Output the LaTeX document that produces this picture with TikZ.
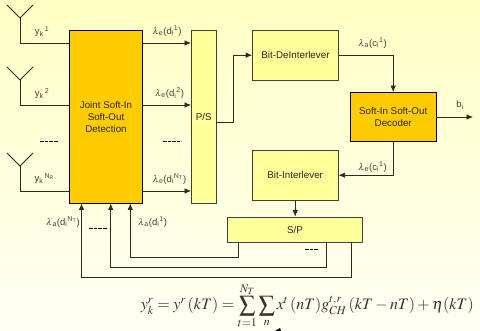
\documentclass[tikz,border=0pt]{standalone}
\usepackage{mathptmx}
\usepackage{amsmath}
\usepackage{fontspec}
\setmainfont{Liberation Sans}
\usetikzlibrary{calc}
\usetikzlibrary{arrows.meta}
\definecolor{bgtop}{HTML}{FFFFC4}
\definecolor{bgbot}{HTML}{FFFFF4}
\definecolor{detfill}{HTML}{FFCC00}
\definecolor{lightfill}{HTML}{FFFF99}
\definecolor{linegray}{HTML}{2A2A1E}
\tikzset{
	dark/.style={draw=black,line width=0.7pt,fill=detfill,align=center,font=\fontsize{9.8}{12.4}\selectfont,text=black!85},
	pale/.style={draw=black!75,line width=0.7pt,fill=lightfill,align=center,font=\fontsize{9.8}{12.4}\selectfont,text=black!85},
	wire/.style={draw=linegray,line width=0.75pt},
	flow/.style={wire,-{Latex[length=6.5pt,width=5.5pt]}},
	sig/.style={font=\fontsize{9.5}{11}\selectfont,text=black!75,inner sep=0pt},
	gap/.style={line width=0.9pt,dash pattern=on 3.5pt off 1.2pt,black}
}
\newcommand{\lam}{$\lambda$}
\begin{document}
\begin{tikzpicture}[x=1pt,y=-1pt]
\useasboundingbox (0,0) rectangle (480,331);
\shade[top color=bgtop,bottom color=bgbot] (0,0) rectangle (480,331);
% blocks
\node[dark,minimum width=73pt,minimum height=173pt] (DET) at (106,117) {Joint Soft-In\\Soft-Out\\Detection};
\node[pale,minimum width=24.5pt,minimum height=173pt] (PS) at (203.7,117) {P/S};
\node[pale,minimum width=86pt,minimum height=49.5pt] (DEINT) at (295.5,55.2) {Bit-DeInterlever};
\node[dark,minimum width=85.5pt,minimum height=49pt] (DEC) at (393.2,117) {Soft-In Soft-Out\\Decoder};
\node[pale,minimum width=86pt,minimum height=49.5pt] (INT) at (295.2,175.2) {Bit-Interlever};
\node[pale,minimum width=135pt,minimum height=25pt] (SP) at (295,229.5) {S/P};
% antennas
\foreach \name/\ya/\yb in {1/18/43,2/80/105,3/166/191}{
	\coordinate (L\name) at (7,\ya-13);
	\coordinate (R\name) at (33,\ya-13);
	\coordinate (T\name) at (20,\ya);
	\coordinate (F\name) at (20,\yb);
	\draw[wire] (L\name)--(T\name)--(R\name);
	\draw[wire] (T\name)--(F\name)--(F\name-|DET.west);
}
% detector to P/S
\foreach \yy in {43,105,191}{
	\coordinate (O) at (DET.east|-0,\yy);
	\draw[flow] (O)--(O-|PS.west);
}
% chain
\draw[flow] (PS.east|-0,122)--(233,122)--(233,55.2)--(DEINT.west);
\draw[flow] (DEINT.east)-|(DEC.north);
\coordinate (OUT) at (473,117);
\draw[flow] (DEC.east)--(OUT);
\draw[flow] (DEC.south)|-(INT.east);
\draw[flow] (INT.south)--(SP.north-|INT.south);
% feedback
\coordinate (FA) at (130.3,203.5);
\coordinate (FB) at (110.7,203.5);
\coordinate (FC) at (81.5,203.5);
\draw[flow] (238.5,242)--(238.5,257.5)--(130.3,257.5)--(FA);
\draw[flow] (326.7,242)--(326.7,267.5)--(110.7,267.5)--(FB);
\draw[flow] (351,242)--(351,277.3)--(81.5,277.3)--(FC);
% labels
\node[sig] (y1) at (42,31.5) {y\textsubscript{k}\textsuperscript{\,1}};
\node[sig] (y2) at (42,93.5) {y\textsubscript{k}\textsuperscript{\,2}};
\node[sig] (y3) at (44.5,178.5) {y\textsubscript{k}\textsuperscript{\,N\textsubscript{R}}};
\node[sig] (e1) at (167,31) {\lam\textsubscript{e}(d\textsubscript{i}\textsuperscript{1})};
\node[sig] (e2) at (169.5,93) {\lam\textsubscript{e}(d\textsubscript{i}\textsuperscript{2})};
\node[sig] (e3) at (169.5,179) {\lam\textsubscript{e}(d\textsubscript{i}\textsuperscript{N\textsubscript{T}})};
\node[sig] (a1) at (63,222) {\lam\textsubscript{a}(d\textsubscript{i}\textsuperscript{N\textsubscript{T}})};
\node[sig] (a2) at (152.5,222) {\lam\textsubscript{a}(d\textsubscript{i}\textsuperscript{1})};
\node[sig] (c1) at (372.5,43) {\lam\textsubscript{a}(c\textsubscript{i}\textsuperscript{1})};
\node[sig] (c2) at (372.5,167) {\lam\textsubscript{e}(c\textsubscript{i}\textsuperscript{1})};
\node[sig] (b) at (460,105) {b\textsubscript{i}};
% dashes
\draw[gap] (40,141.5)--(58,141.5);
\draw[gap] (163,141.5)--(180,141.5);
\draw[gap] (89,228)--(107,228);
\draw[gap] (305,249)--(319,249);
% equation
\node[inner sep=0pt,text=black!80] (EQ) at (307.3,305.5) {\fontsize{16}{18}\selectfont$\displaystyle y_k^r = y^r\,(kT)=\sum_{t=1}^{N_T}\sum_n x^t\,(nT)g_{CH}^{t,r}\,(kT-nT)+\eta(kT)$};
\fill[black] (280,328)--(275,331)--(281,331)--cycle;
\end{tikzpicture}
\end{document}
